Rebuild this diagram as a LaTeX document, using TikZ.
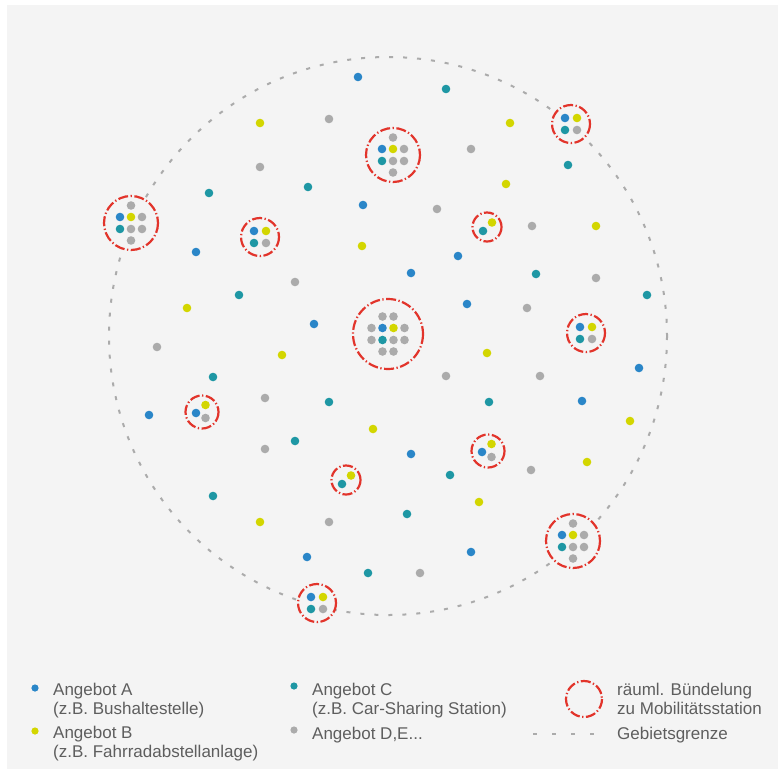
\documentclass[tikz,border=0pt]{standalone}
\usepackage{fontspec}
\setmainfont{Liberation Sans}
\usepackage{xcolor}
\usetikzlibrary{calc,positioning}

\definecolor{angA}{HTML}{2A86C8}
\definecolor{angB}{HTML}{D3D600}
\definecolor{angC}{HTML}{1E97A4}
\definecolor{angD}{HTML}{ABABAB}
\definecolor{buendel}{HTML}{E2342B}
\definecolor{grund}{HTML}{F4F4F4}
\definecolor{schrift}{HTML}{5E5E5E}

% stations (Buendelung), centred at #1,#2
\newcommand{\stationZwei}[2]{%
  \begin{scope}[shift={(#1,#2)}]
    \draw [buendelung] (0,0) circle (14.5);
    \fill [dotB] (5,-4.5) circle (4.3);
    \fill [dotC] (-4,4) circle (4.3);
  \end{scope}}
\newcommand{\stationDrei}[2]{%
  \begin{scope}[shift={(#1,#2)}]
    \draw [buendelung] (0,0) circle (16.5);
    \fill [dotA] (-6,1) circle (4.3);
    \fill [dotB] (3.5,-7) circle (4.3);
    \fill [dotD] (3.5,6) circle (4.3);
  \end{scope}}
\newcommand{\stationVier}[2]{%
  \begin{scope}[shift={(#1,#2)}]
    \draw [buendelung] (0,0) circle (19);
    \fill [dotA] (-6,-6) circle (4.3);
    \fill [dotB] (6,-6) circle (4.3);
    \fill [dotC] (-6,6) circle (4.3);
    \fill [dotD] (6,6) circle (4.3);
  \end{scope}}
\newcommand{\stationAcht}[2]{%
  \begin{scope}[shift={(#1,#2)}]
    \draw [buendelung] (0,0) circle (27);
    \fill [dotA] (-11,-6) circle (4.3);
    \fill [dotB] (0,-6) circle (4.3);
    \fill [dotC] (-11,6) circle (4.3);
    \fill [dotD] (0,-17.5) circle (4.3) (11,-6) circle (4.3)
      (0,6) circle (4.3) (11,6) circle (4.3) (0,17.5) circle (4.3);
  \end{scope}}
\newcommand{\stationZwoelf}[2]{%
  \begin{scope}[shift={(#1,#2)}]
    \draw [buendelung] (0,0) circle (35);
    \fill [dotA] (-5.5,-6) circle (4.3);
    \fill [dotB] (5.5,-6) circle (4.3);
    \fill [dotC] (-5.5,6) circle (4.3);
    \fill [dotD] (-5.5,-17.5) circle (4.3) (5.5,-17.5) circle (4.3)
      (-16.5,-6) circle (4.3) (16.5,-6) circle (4.3)
      (-16.5,6) circle (4.3) (5.5,6) circle (4.3) (16.5,6) circle (4.3)
      (-5.5,17.5) circle (4.3) (5.5,17.5) circle (4.3);
  \end{scope}}

\begin{document}
\begin{tikzpicture}[x=1pt, y=-1pt]
	\tikzstyle{every node}=[font=\fontsize{17}{20}\selectfont, text=schrift, inner sep=0pt]
	\tikzstyle{legende}=[anchor=base west]
	\tikzstyle{dotA}=[fill=angA]
	\tikzstyle{dotB}=[fill=angB]
	\tikzstyle{dotC}=[fill=angC]
	\tikzstyle{dotD}=[fill=angD]
	\tikzstyle{buendelung}=[draw=buendel, fill=grund, line width=2.2pt, dash pattern=on 10pt off 2.5pt on 1.3pt off 2.5pt]
	\tikzstyle{grenze}=[draw=angD, line width=2pt, dash pattern=on 4pt off 10pt]
	\useasboundingbox (0,0) rectangle (778,769);
	\fill [white] (0,0) rectangle (778,769);
	\fill [grund] (7,5) rectangle (778,769);
	% Gebietsgrenze
	\draw [grenze] (388,336) circle (279);
	% Angebot A
	\fill [dotA] (358,77) circle (4.3);
	\fill [dotA] (363,205) circle (4.3);
	\fill [dotA] (196,252) circle (4.3);
	\fill [dotA] (314,324) circle (4.3);
	\fill [dotA] (458,256) circle (4.3);
	\fill [dotA] (411,273) circle (4.3);
	\fill [dotA] (467,304) circle (4.3);
	\fill [dotA] (149,415) circle (4.3);
	\fill [dotA] (307,557) circle (4.3);
	\fill [dotA] (639,368) circle (4.3);
	\fill [dotA] (582,401) circle (4.3);
	\fill [dotA] (411,454) circle (4.3);
	\fill [dotA] (471,552) circle (4.3);
	% Angebot B
	\fill [dotB] (260,123) circle (4.3);
	\fill [dotB] (510,123) circle (4.3);
	\fill [dotB] (506,184) circle (4.3);
	\fill [dotB] (362,246) circle (4.3);
	\fill [dotB] (596,226) circle (4.3);
	\fill [dotB] (187,308) circle (4.3);
	\fill [dotB] (282,355) circle (4.3);
	\fill [dotB] (487,353) circle (4.3);
	\fill [dotB] (373,429) circle (4.3);
	\fill [dotB] (630,421) circle (4.3);
	\fill [dotB] (587,462) circle (4.3);
	\fill [dotB] (479,502) circle (4.3);
	\fill [dotB] (260,522) circle (4.3);
	% Angebot C
	\fill [dotC] (446,89) circle (4.3);
	\fill [dotC] (568,165) circle (4.3);
	\fill [dotC] (209,193) circle (4.3);
	\fill [dotC] (308,187) circle (4.3);
	\fill [dotC] (536,274) circle (4.3);
	\fill [dotC] (239,295) circle (4.3);
	\fill [dotC] (647,295) circle (4.3);
	\fill [dotC] (213,377) circle (4.3);
	\fill [dotC] (329,402) circle (4.3);
	\fill [dotC] (489,402) circle (4.3);
	\fill [dotC] (295,441) circle (4.3);
	\fill [dotC] (450,475) circle (4.3);
	\fill [dotC] (213,496) circle (4.3);
	\fill [dotC] (407,514) circle (4.3);
	\fill [dotC] (368,573) circle (4.3);
	% Angebot D,E
	\fill [dotD] (329,119) circle (4.3);
	\fill [dotD] (471,149) circle (4.3);
	\fill [dotD] (260,167) circle (4.3);
	\fill [dotD] (437,209) circle (4.3);
	\fill [dotD] (532,226) circle (4.3);
	\fill [dotD] (596,278) circle (4.3);
	\fill [dotD] (295,282) circle (4.3);
	\fill [dotD] (527,308) circle (4.3);
	\fill [dotD] (157,347) circle (4.3);
	\fill [dotD] (446,376) circle (4.3);
	\fill [dotD] (540,376) circle (4.3);
	\fill [dotD] (265,398) circle (4.3);
	\fill [dotD] (265,449) circle (4.3);
	\fill [dotD] (531,470) circle (4.3);
	\fill [dotD] (329,522) circle (4.3);
	\fill [dotD] (420,573) circle (4.3);
	% Mobilitaetsstationen
	\stationZwoelf{388}{334}
	\stationAcht{131}{223}
	\stationAcht{393}{155}
	\stationAcht{573}{541}
	\stationVier{571}{124}
	\stationVier{260}{237}
	\stationVier{586}{333}
	\stationVier{317}{603}
	\stationDrei{202}{412}
	\stationDrei{488}{451}
	\stationZwei{487}{227}
	\stationZwei{346}{480}
	% Legende
	\fill [dotA] (35,688) circle (3.6);
	\fill [dotB] (35,731) circle (3.6);
	\fill [dotC] (294,686) circle (3.6);
	\fill [dotD] (294,730) circle (3.6);
	\draw [buendelung] (584,699) circle (18);
	\draw [grenze, dash pattern=on 4pt off 15pt] (533,734) -- (597,734);
	\node [legende] (angA1) at (53,695) {Angebot A};
	\node [legende] (angA2) at (53,714) {(z.B. Bushaltestelle)};
	\node [legende] (angB1) at (53,738) {Angebot B};
	\node [legende] (angB2) at (53,757) {(z.B. Fahrradabstellanlage)};
	\node [legende] (angC1) at (312,695) {Angebot C};
	\node [legende] (angC2) at (312,714) {(z.B. Car-Sharing Station)};
	\node [legende] (angD1) at (312,739) {Angebot D,E...};
	\node [legende] (buend1) at (617,695) {räuml. Bündelung};
	\node [legende] (buend2) at (617,714) {zu Mobilitätsstation};
	\node [legende] (grenze1) at (617,739) {Gebietsgrenze};
\end{tikzpicture}
\end{document}
